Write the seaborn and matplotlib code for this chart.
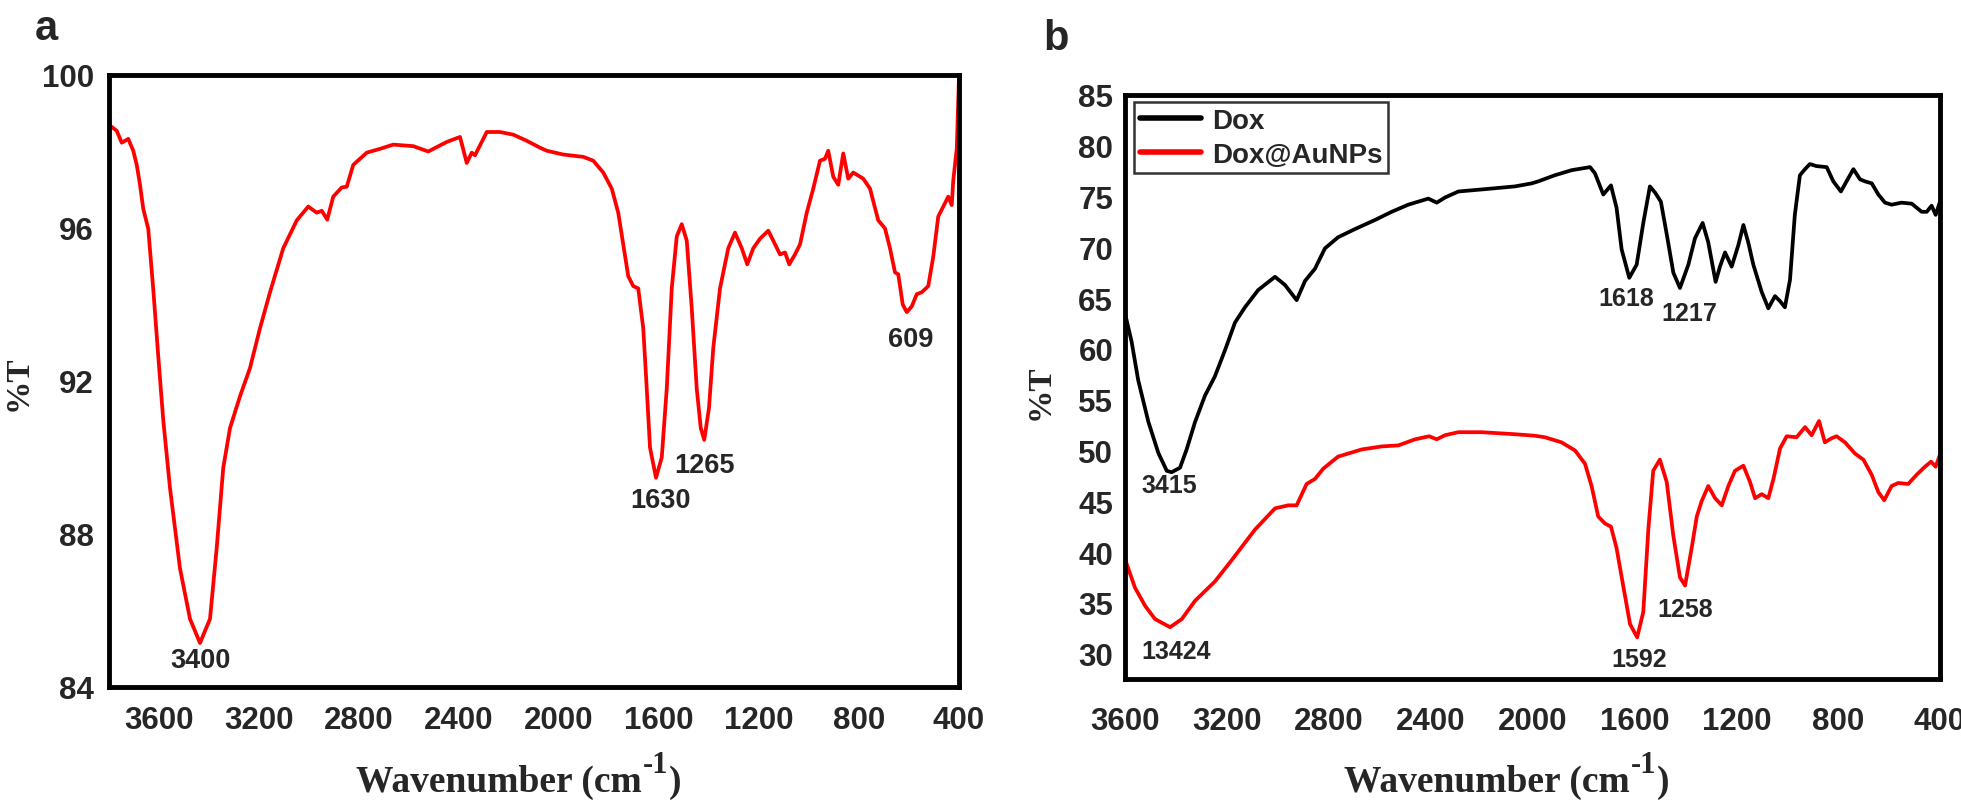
import matplotlib
matplotlib.use("Agg")
import matplotlib.pyplot as plt
import seaborn as sns
import pandas as pd

# ---------------- data ----------------
wn_a = [3800, 3769, 3749, 3723, 3703, 3689, 3676, 3663, 3643, 3623, 3603, 3583, 3556, 3516, 3476,
        3436, 3396, 3369, 3343, 3316, 3276, 3236, 3196, 3156, 3103, 3049, 3003, 2969, 2949, 2927,
        2903, 2869, 2849, 2823, 2769, 2716, 2663, 2583, 2523, 2449, 2396, 2369, 2349, 2336, 2289,
        2236, 2183, 2129, 2076, 2049, 1983, 1903, 1863, 1823, 1789, 1763, 1743, 1723, 1703, 1683,
        1663, 1649, 1636, 1612, 1589, 1569, 1549, 1529, 1509, 1489, 1469, 1449, 1433, 1419, 1400,
        1383, 1356, 1323, 1296, 1269, 1247, 1223, 1196, 1163, 1143, 1116, 1096, 1079, 1056, 1036,
        1009, 983, 956, 936, 923, 903, 883, 863, 843, 823, 783, 756, 723, 696, 676,
        656, 643, 625, 609, 589, 569, 549, 523, 503, 483, 463, 443, 429, 423, 409, 400]
t_a = [98.70, 98.54, 98.23, 98.33, 98.02, 97.65, 97.13, 96.50, 95.98, 94.40, 92.65, 90.98, 89.20, 87.10, 85.78,
       85.15, 85.78, 87.65, 89.73, 90.77, 91.60, 92.34, 93.38, 94.32, 95.47, 96.20, 96.56, 96.40, 96.45, 96.22,
       96.82, 97.06, 97.08, 97.65, 97.97, 98.07, 98.18, 98.14, 98.00, 98.25, 98.38, 97.70, 97.97, 97.90, 98.51,
       98.51, 98.44, 98.28, 98.10, 98.02, 97.92, 97.86, 97.76, 97.45, 97.03, 96.40, 95.57, 94.74, 94.48, 94.42,
       93.38, 91.80, 90.26, 89.47, 90.00, 91.80, 94.42, 95.78, 96.10, 95.67, 93.90, 91.80, 90.77, 90.46, 91.30,
       92.86, 94.42, 95.47, 95.88, 95.47, 95.05, 95.47, 95.72, 95.93, 95.67, 95.31, 95.36, 95.05, 95.31, 95.57,
       96.40, 97.03, 97.76, 97.81, 98.02, 97.34, 97.13, 97.95, 97.29, 97.45, 97.29, 97.03, 96.20, 95.99, 95.47,
       94.84, 94.79, 94.00, 93.80, 93.95, 94.27, 94.32, 94.48, 95.25, 96.30, 96.56, 96.82, 96.60, 97.24, 98.07, 99.95]

wn_dox = [3600, 3574, 3548, 3508, 3469, 3436, 3417, 3384, 3358, 3325, 3286, 3247, 3207, 3168, 3129,
          3077, 3011, 2972, 2926, 2893, 2854, 2815, 2763, 2697, 2618, 2553, 2488, 2409, 2376, 2344,
          2291, 2200, 2069, 2003, 1977, 1912, 1846, 1774, 1755, 1722, 1692, 1670, 1650, 1620, 1591,
          1565, 1539, 1519, 1496, 1473, 1447, 1421, 1388, 1362, 1332, 1310, 1281, 1264, 1244, 1218,
          1192, 1172, 1153, 1133, 1100, 1074, 1048, 1028, 1009, 989, 970, 950, 930, 911, 885,
          845, 819, 789, 767, 740, 714, 695, 668, 642, 616, 590, 551, 511, 472, 452,
          433, 417, 400]
t_dox = [63.5, 60.7, 56.9, 52.8, 49.75, 48.0, 47.86, 48.3, 50.1, 52.8, 55.4, 57.3, 59.9, 62.6, 64.1,
         65.8, 67.1, 66.3, 64.8, 66.7, 67.9, 69.9, 71.0, 71.8, 72.7, 73.5, 74.2, 74.8, 74.4, 74.9,
         75.5, 75.7, 76.0, 76.3, 76.5, 77.1, 77.6, 77.9, 77.3, 75.2, 76.1, 73.9, 69.8, 67.0, 68.3,
         72.4, 76.0, 75.4, 74.5, 71.3, 67.5, 66.0, 68.3, 70.9, 72.4, 70.5, 66.6, 68.1, 69.5, 68.1,
         70.2, 72.2, 70.5, 68.3, 65.6, 64.0, 65.2, 64.7, 64.1, 66.8, 73.2, 77.1, 77.7, 78.2, 78.0,
         77.9, 76.5, 75.5, 76.5, 77.7, 76.7, 76.5, 76.3, 75.2, 74.4, 74.2, 74.4, 74.3, 73.5, 73.5,
         74.1, 73.2, 74.5]

wn_au = [3600, 3561, 3521, 3482, 3423, 3377, 3325, 3247, 3181, 3090, 3011, 2959, 2926, 2887, 2854,
         2822, 2763, 2710, 2671, 2592, 2527, 2461, 2406, 2376, 2344, 2291, 2200, 2069, 1990, 1951,
         1886, 1833, 1794, 1768, 1742, 1715, 1692, 1670, 1644, 1617, 1589, 1565, 1545, 1526, 1500,
         1473, 1447, 1421, 1401, 1375, 1355, 1336, 1310, 1283, 1257, 1231, 1205, 1172, 1146, 1126,
         1100, 1074, 1054, 1028, 1002, 963, 930, 904, 875, 852, 826, 806, 773, 734, 701,
         668, 642, 619, 590, 564, 525, 492, 459, 435, 417, 400]
t_au = [39.3, 36.5, 34.7, 33.4, 32.6, 33.4, 35.2, 37.1, 39.2, 42.2, 44.3, 44.6, 44.6, 46.7, 47.2,
        48.2, 49.4, 49.8, 50.1, 50.4, 50.5, 51.1, 51.4, 51.1, 51.5, 51.8, 51.8, 51.6, 51.45, 51.3,
        50.8, 50.0, 48.7, 46.5, 43.5, 42.8, 42.5, 40.4, 36.7, 32.9, 31.6, 34.1, 42.3, 48.0, 49.1,
        46.9, 41.6, 37.5, 36.7, 40.4, 43.5, 45.0, 46.5, 45.3, 44.6, 46.5, 48.0, 48.5, 46.9, 45.3,
        45.7, 45.3, 47.2, 50.2, 51.4, 51.3, 52.3, 51.5, 52.9, 50.8, 51.2, 51.4, 50.8, 49.7, 49.1,
        47.6, 45.9, 45.1, 46.5, 46.8, 46.7, 47.6, 48.4, 48.9, 48.4, 49.6]

xticks = [3600, 3200, 2800, 2400, 2000, 1600, 1200, 800, 400]
yticks_a = [84, 88, 92, 96, 100]
yticks_b = [30, 35, 40, 45, 50, 55, 60, 65, 70, 75, 80, 85]

peaks_a_text = ["3400", "1630", "1265", "609"]
peaks_a_pos = [(3432, 84.52), (1592, 88.71), (1420, 89.62), (592, 92.92)]
peaks_b_text = ["3415", "13424", "1618", "1217", "1592", "1258"]
peaks_b_pos = [(3427, 45.9), (3400, 29.6), (1633, 64.3), (1386, 62.8), (1582, 28.8), (1401, 33.7)]

series_names = ["Dox", "Dox@AuNPs"]

# ---------------- style ----------------
sns.set_style("white")
plt.rcParams["font.family"] = ["Liberation Sans", "DejaVu Sans"]
plt.rcParams["font.weight"] = "bold"

W, H = 1961, 803
fig = plt.figure(figsize=(W / 100, H / 100), dpi=100)
axA = fig.add_axes([109 / W, 1 - 688 / H, 850 / W, 612 / H])
axB = fig.add_axes([1125 / W, 1 - 680 / H, 815 / W, 584 / H])

dfa = pd.DataFrame({"wn": wn_a, "T": t_a})
sns.lineplot(data=dfa, x="wn", y="T", ax=axA, color="#ff0000", lw=2.7,
             estimator=None, sort=False)

dfb = pd.concat([
    pd.DataFrame({"wn": wn_dox, "T": t_dox, "s": series_names[0]}),
    pd.DataFrame({"wn": wn_au, "T": t_au, "s": series_names[1]}),
])
sns.lineplot(data=dfb, x="wn", y="T", hue="s", ax=axB,
             palette={series_names[0]: "black", series_names[1]: "#ff0000"},
             lw=2.7, estimator=None, sort=False)

axA.set_xlim(3800, 400)
axA.set_ylim(84, 100)
axB.set_xlim(3600, 400)
axB.set_ylim(27.5, 85)

for ax, yt, xpad, ypad in [(axA, yticks_a, 13, 11), (axB, yticks_b, 19.5, 8.5)]:
    ax.set_xticks(xticks)
    ax.set_yticks(yt)
    ax.set_xticklabels([str(v) for v in xticks])
    ax.set_yticklabels([str(v) for v in yt])
    ax.tick_params(axis="x", length=0, pad=xpad, labelsize=22.5)
    ax.tick_params(axis="y", length=0, pad=ypad, labelsize=22.5)
    for lab in ax.get_xticklabels() + ax.get_yticklabels():
        lab.set_fontweight("bold")
    for sp in ax.spines.values():
        sp.set_visible(True)
        sp.set_color("black")
        sp.set_linewidth(3.5)
    ax.set_xlabel("")
    ax.set_ylabel("")
    ax.grid(False)

for txt, (x, y) in zip(peaks_a_text, peaks_a_pos):
    axA.text(x, y, txt, ha="center", va="baseline", fontsize=19.5, fontweight="bold")
for txt, (x, y) in zip(peaks_b_text, peaks_b_pos):
    axB.text(x, y, txt, ha="center", va="baseline", fontsize=18, fontweight="bold")

# legend
handles, labels = axB.get_legend_handles_labels()
leg = axB.legend(handles, labels, loc="upper left", bbox_to_anchor=(0.011, 0.988),
                 borderaxespad=0, frameon=True, fancybox=False, edgecolor="black",
                 handlelength=2.2, handletextpad=0.4, labelspacing=0.3,
                 borderpad=0.2, prop={"weight": "bold", "size": 20})
leg.get_frame().set_linewidth(1.8)
for l in leg.get_lines():
    l.set_linewidth(4)

serif = dict(family="Liberation Serif", fontweight="bold")


def xlabel(x0, base, supbase, ax):
    t1 = fig.text(x0 / W, 1 - base / H, "Wavenumber (cm", fontsize=27, va="baseline",
                  ha="left", **serif)
    t2 = ax.annotate("-1", xy=(1, H - supbase), xycoords=(t1, "figure pixels"),
                     xytext=(0.5, 0), textcoords="offset points", va="baseline", ha="left",
                     fontsize=22, annotation_clip=False, **serif)
    ax.annotate(")", xy=(1, H - base), xycoords=(t2, "figure pixels"),
                xytext=(0.5, 0), textcoords="offset points", va="baseline", ha="left",
                fontsize=27, annotation_clip=False, **serif)


xlabel(356, 792, 773, axA)
xlabel(1344, 792, 773, axB)

fig.text(18 / W, 1 - 383 / H, "%T", rotation=90, ha="center", va="center", fontsize=24, **serif)
fig.text(1040 / W, 1 - 392 / H, "%T", rotation=90, ha="center", va="center", fontsize=24, **serif)

fig.text(35 / W, 1 - 40 / H, "a", fontsize=30, fontweight="bold", va="baseline", ha="left")
fig.text(1043 / W, 1 - 50 / H, "b", fontsize=30, fontweight="bold", va="baseline", ha="left")

fig.savefig("out.png", dpi=100, facecolor="white")
